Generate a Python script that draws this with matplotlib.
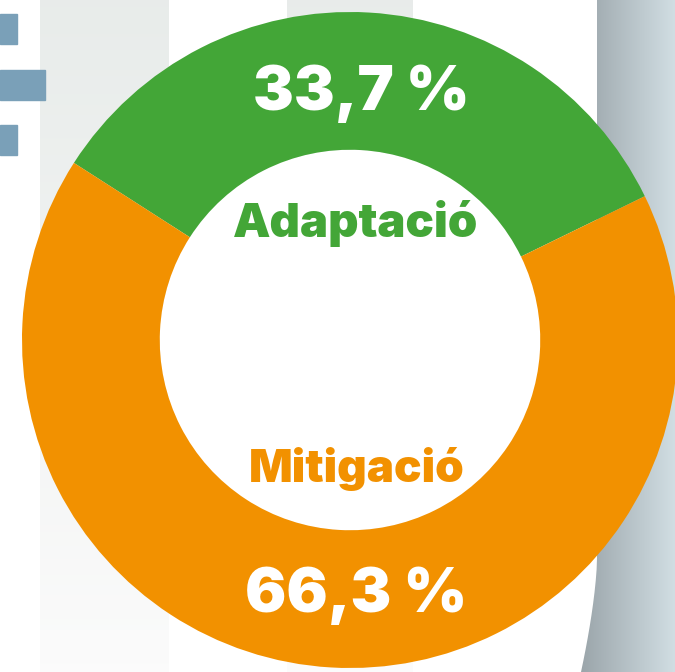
import numpy as np
import matplotlib
matplotlib.use("Agg")
import matplotlib.pyplot as plt
from matplotlib.patches import Rectangle, Polygon, Circle

# ---- data ----
categories = ["Adaptació", "Mitigació"]
values = [33.7, 66.3]
value_labels = ["33,7 %", "66,3 %"]
colors = ["#43a637", "#f29100"]

W, H = 675, 672
fig = plt.figure(figsize=(W / 100, H / 100), dpi=100)
fig.patch.set_facecolor("white")

# ---- background decoration (pixel coordinates) ----
bg = fig.add_axes([0, 0, 1, 1])
bg.set_xlim(0, W)
bg.set_ylim(H, 0)
bg.axis("off")

grad = np.linspace(0, 1, 256).reshape(-1, 1)
top = np.array([0.910, 0.925, 0.918])
bot = np.array([0.985, 0.985, 0.985])
strip = top[None, None, :] * (1 - grad[..., None]) + bot[None, None, :] * grad[..., None]
bg.imshow(strip, extent=[40, 169, H, 0], aspect="auto", zorder=1)
bg.imshow(strip, extent=[287, 413, H, 0], aspect="auto", zorder=1)

bar_col = "#7aa0b8"
bg.add_patch(Rectangle((0, 14), 17, 30, color=bar_col, zorder=2))
bg.add_patch(Rectangle((0, 70), 45, 30, color=bar_col, zorder=2))
bg.add_patch(Rectangle((0, 125), 17, 30, color=bar_col, zorder=2))

gx = np.linspace(0, 1, 256).reshape(1, -1)
left_c = np.array([0.60, 0.64, 0.66])
right_c = np.array([0.82, 0.87, 0.89])
panel = left_c[None, None, :] * (1 - gx[..., None]) + right_c[None, None, :] * gx[..., None]
im = bg.imshow(panel, extent=[578, W, H, 0], aspect="auto", zorder=1)
ys = np.linspace(0, H, 60)
edge = 597 - 16 * np.clip((ys - 560) / 112, 0, 1) ** 1.5
clip_poly = Polygon(np.column_stack([np.r_[edge, W, W], np.r_[ys, H, 0]]),
                    closed=True, transform=bg.transData, facecolor="none", edgecolor="none")
bg.add_patch(clip_poly)
im.set_clip_path(clip_poly)

# ---- donut ----
cx, cy, R = 350, 340, 328
ax = fig.add_axes([(cx - R) / W, (H - cy - R) / H, 2 * R / W, 2 * R / H])
ax.axis("off")
ax.patch.set_alpha(0)
width = 0.42
ax.pie(values, colors=colors, startangle=26, counterclock=True, radius=1,
       wedgeprops=dict(width=width, linewidth=0))
ax.add_patch(Circle((0, 0), 1 - width, facecolor="white", edgecolor="none", zorder=0))
ax.set_xlim(-1, 1)
ax.set_ylim(-1, 1)
ax.set_aspect("equal")

font = "Inter"
fig.text(361 / W, 1 - 110 / H, value_labels[0], ha="center", va="baseline",
         color="white", fontsize=44, fontweight="black", family=font)
fig.text(356 / W, 1 - 237 / H, categories[0], ha="center", va="baseline",
         color=colors[0], fontsize=34, fontweight="black", family=font)
fig.text(357 / W, 1 - 482 / H, categories[1], ha="center", va="baseline",
         color=colors[1], fontsize=33, fontweight="black", family=font)
fig.text(356 / W, 1 - 612 / H, value_labels[1], ha="center", va="baseline",
         color="white", fontsize=44, fontweight="black", family=font)

fig.savefig("out.png", dpi=100, facecolor="white")
